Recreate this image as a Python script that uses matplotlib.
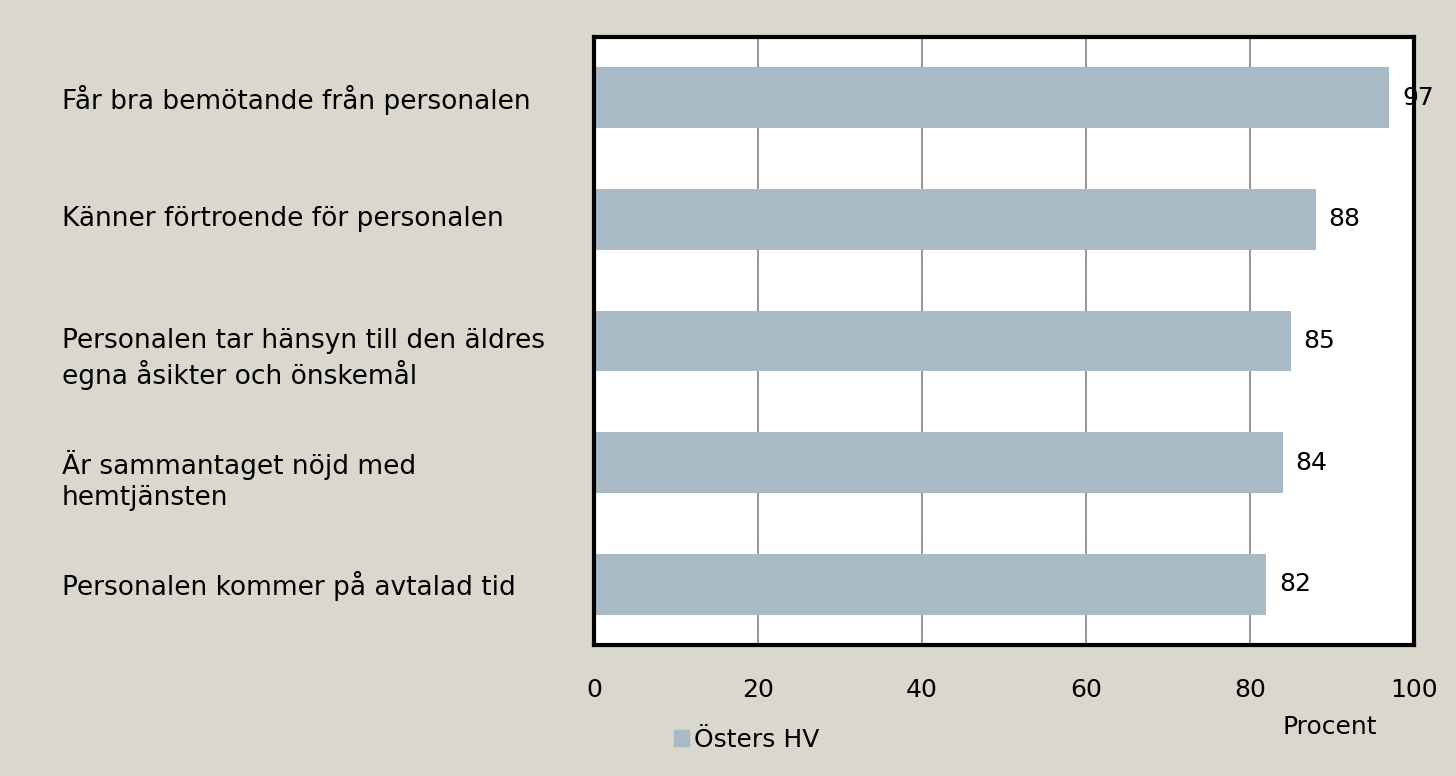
import matplotlib
matplotlib.use("Agg")
import matplotlib.pyplot as plt
import matplotlib.transforms as mtransforms
from matplotlib.patches import Patch

categories = [
    "Får bra bemötande från personalen",
    "Känner förtroende för personalen",
    "Personalen tar hänsyn till den äldres\negna åsikter och önskemål",
    "Är sammantaget nöjd med\nhemtjänsten",
    "Personalen kommer på avtalad tid",
]
values = [97, 88, 85, 84, 82]
series_name = "Östers HV"
xticks = [0, 20, 40, 60, 80, 100]
xlabel = "Procent"

bg = "#DAD8CC"
bar_color = "#A7BAC5"
plt.rcParams["font.family"] = ["DejaVu Sans"]
fs = 19
fs_num = 18

fig = plt.figure(figsize=(14.56, 7.76), dpi=100, facecolor=bg)
ax = fig.add_axes([594/1456, 1-645/776, (1414-594)/1456, (645-37)/776])
ax.set_facecolor("white")

ypos = list(range(len(categories)))
ax.barh(ypos, values, height=0.5, color=bar_color, zorder=2)
ax.set_ylim(len(categories)-0.5, -0.5)
ax.set_xlim(0, 100)
ax.set_xticks(xticks)
ax.set_xticklabels([str(t) for t in xticks], fontsize=fs_num)
ax.tick_params(axis="x", length=0, pad=24)
ax.set_yticks(ypos)
ax.set_yticklabels([])
ax.tick_params(axis="y", length=0)
ax.xaxis.grid(True, color="#8C8C8C", linewidth=1.3, zorder=1)
ax.set_axisbelow(True)
for s in ax.spines.values():
    s.set_linewidth(3)
    s.set_color("black")

label_tr = mtransforms.blended_transform_factory(fig.transFigure, ax.transData) \
    + mtransforms.ScaledTranslation(0, 13/100, fig.dpi_scale_trans)
for y, lab in zip(ypos, categories):
    fig.text(62/1456, y, lab, transform=label_tr, fontsize=fs, ha="left",
             va="top", linespacing=1.25)

for y, v in zip(ypos, values):
    ax.annotate(str(v), (v, y), xytext=(9, 0), textcoords="offset points",
                va="center", ha="left", fontsize=fs_num, zorder=3)

fig.text(1330/1456, 1-727/776, xlabel, fontsize=fs_num, ha="center", va="center")
fig.legend(handles=[Patch(color=bar_color)], labels=[series_name],
           loc="center left", bbox_to_anchor=(664/1456, 1-740/776),
           frameon=False, fontsize=fs_num, handlelength=0.6, handleheight=0.6,
           handletextpad=0.2, borderaxespad=0)

fig.savefig("out.png", dpi=100, facecolor=bg)
